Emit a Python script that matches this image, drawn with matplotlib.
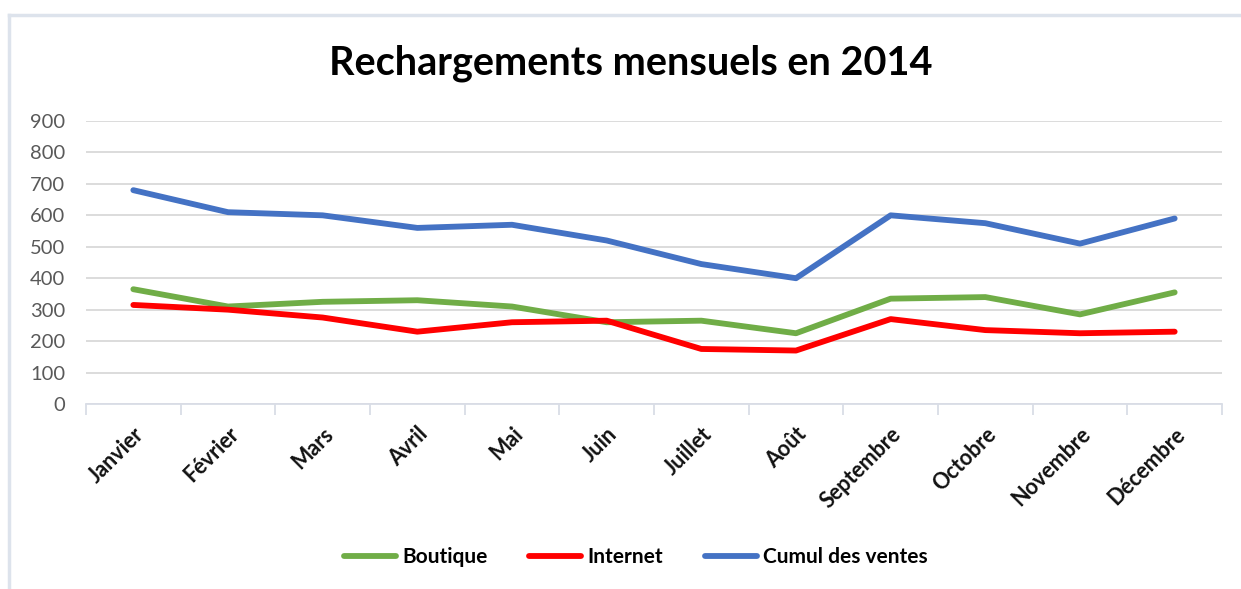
import matplotlib.pyplot as plt
import numpy as np

mois = ["Janvier", "Février", "Mars", "Avril", "Mai", "Juin", "Juillet",
        "Août", "Septembre", "Octobre", "Novembre", "Décembre"]
boutique = [365, 310, 325, 330, 310, 260, 265, 225, 335, 340, 285, 355]
internet = [315, 300, 275, 230, 260, 265, 175, 170, 270, 235, 225, 230]
cumul = [680, 610, 600, 560, 570, 520, 445, 400, 600, 575, 510, 590]
y_ticks = [0, 100, 200, 300, 400, 500, 600, 700, 800, 900]

plt.rcParams['font.family'] = ['Lato', 'DejaVu Sans']

fig = plt.figure(figsize=(12.41, 5.89), dpi=100)
ax = fig.add_axes([86 / 1241, 1 - 404 / 589, (1222 - 86) / 1241, (404 - 121) / 589])

x = np.arange(len(mois))
ax.plot(x, boutique, color="#70ad47", lw=4.2, label="Boutique", solid_capstyle="round")
ax.plot(x, internet, color="#ff0000", lw=4.2, label="Internet", solid_capstyle="round")
ax.plot(x, cumul, color="#4472c4", lw=4.2, label="Cumul des ventes", solid_capstyle="round")

ax.set_xlim(-0.5, len(mois) - 0.5)
ax.set_ylim(0, 900)
ax.set_yticks(y_ticks)
ax.yaxis.grid(True, color="#d9d9d9", lw=1.3)
ax.set_axisbelow(True)
ax.tick_params(axis="y", length=0, pad=15, labelsize=14.5, labelcolor="#595959")

ax.set_xticks(x)
ax.set_xticklabels(mois, rotation=45, ha="right", rotation_mode="anchor",
                   fontsize=15.5, fontweight="bold", color="#111111")
ax.tick_params(axis="x", length=0, pad=14)
ax.set_xticks(np.arange(len(mois) + 1) - 0.5, minor=True)
ax.tick_params(axis="x", which="minor", length=8, color="#d9dde6", width=1.3)

for s in ["top", "right", "left"]:
    ax.spines[s].set_visible(False)
ax.spines["bottom"].set_color("#d9dde6")
ax.spines["bottom"].set_linewidth(1.3)

fig.text(0.508, 1 - 63 / 589, "Rechargements mensuels en 2014", ha="center", va="center",
         fontsize=28.5, fontweight="bold", color="#000000")

leg = fig.legend(loc="center", bbox_to_anchor=(0.5125, 1 - 557 / 589), ncol=3, frameon=False,
                 prop={"size": 15, "weight": "bold"}, handlelength=2.5, handletextpad=0.3,
                 columnspacing=2.0)

# cadre du graphique
fig.add_artist(plt.Line2D([9 / 1241, 9 / 1241], [0, 1 - 15 / 589], color="#dde3ec", lw=2.5,
                          transform=fig.transFigure))
fig.add_artist(plt.Line2D([9 / 1241, 1], [1 - 15 / 589, 1 - 15 / 589], color="#dde3ec", lw=2.5,
                          transform=fig.transFigure))

fig.savefig("out.png", dpi=100)
